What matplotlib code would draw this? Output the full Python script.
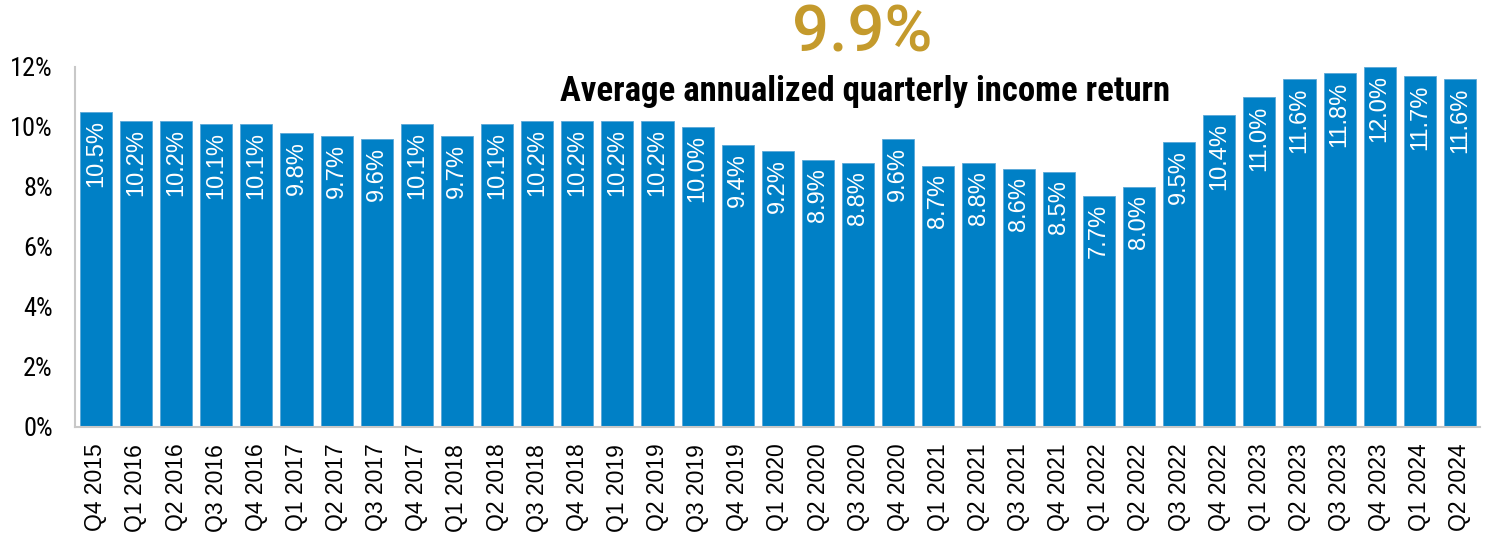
import matplotlib
matplotlib.use("Agg")
import matplotlib.pyplot as plt
from matplotlib import font_manager as fm

# Data
quarters = ["Q4 2015", "Q1 2016", "Q2 2016", "Q3 2016", "Q4 2016", "Q1 2017", "Q2 2017",
            "Q3 2017", "Q4 2017", "Q1 2018", "Q2 2018", "Q3 2018", "Q4 2018", "Q1 2019",
            "Q2 2019", "Q3 2019", "Q4 2019", "Q1 2020", "Q2 2020", "Q3 2020", "Q4 2020",
            "Q1 2021", "Q2 2021", "Q3 2021", "Q4 2021", "Q1 2022", "Q2 2022", "Q3 2022",
            "Q4 2022", "Q1 2023", "Q2 2023", "Q3 2023", "Q4 2023", "Q1 2024", "Q2 2024"]
income_return = [10.5, 10.2, 10.2, 10.1, 10.1, 9.8, 9.7, 9.6, 10.1, 9.7, 10.1, 10.2, 10.2, 10.2,
                 10.2, 10.0, 9.4, 9.2, 8.9, 8.8, 9.6, 8.7, 8.8, 8.6, 8.5, 7.7, 8.0, 9.5,
                 10.4, 11.0, 11.6, 11.8, 12.0, 11.7, 11.6]
y_ticks = [0, 2, 4, 6, 8, 10, 12]
headline = "9.9%"
subhead = "Average annualized quarterly income return"

installed = {f.name for f in fm.fontManager.ttflist}


def pick(*names):
    for n in names:
        if n in installed:
            return n
    return "DejaVu Sans"


narrow = pick("Roboto Condensed", "Archivo Narrow", "Barlow Semi Condensed", "Asap Condensed",
              "Liberation Sans Narrow")
arial = pick("Liberation Sans", "Arimo", "Arial", "Roboto")
head_font = pick("Roboto", "Open Sans", "Lato")

BLUE = "#0080c6"
GOLD = "#c49a2c"

fig = plt.figure(figsize=(14.86, 5.38), dpi=100)
ax = fig.add_axes([75 / 1486, 1 - 427 / 538, 1405 / 1486, 360 / 538])

x = list(range(len(quarters)))
ax.bar(x, income_return, width=0.8, color=BLUE, edgecolor="#5aa8d8", linewidth=0.6)

for xi, v in zip(x, income_return):
    ax.annotate(f"{v:.1f}%", (xi, v), xytext=(0, -6), textcoords="offset points",
                rotation=90, ha="center", va="top", color="white",
                fontsize=17, family=arial)

ax.set_xlim(-0.52, len(quarters) - 0.5)
ax.set_ylim(0, 12)
ax.set_yticks(y_ticks)
ax.set_yticklabels([f"{t}%" for t in y_ticks], family=narrow, fontsize=19)
ax.set_xticks(x)
ax.set_xticklabels(quarters, rotation=90, family=arial, fontsize=16.5)
ax.tick_params(length=0)
ax.tick_params(axis="x", pad=12)
ax.tick_params(axis="y", pad=16)

for s in ["top", "right"]:
    ax.spines[s].set_visible(False)
for s in ["left", "bottom"]:
    ax.spines[s].set_color("#c8c8c8")
    ax.spines[s].set_linewidth(1.5)

fig.text(862 / 1486, 1 - 33 / 538, headline, ha="center", va="center",
         color=GOLD, fontsize=47, family=head_font, fontweight="medium")
fig.text(865 / 1486, 1 - 92 / 538, subhead, ha="center", va="center",
         color="black", fontsize=25, family=narrow, fontweight="bold")

fig.savefig("out.png", dpi=100)
